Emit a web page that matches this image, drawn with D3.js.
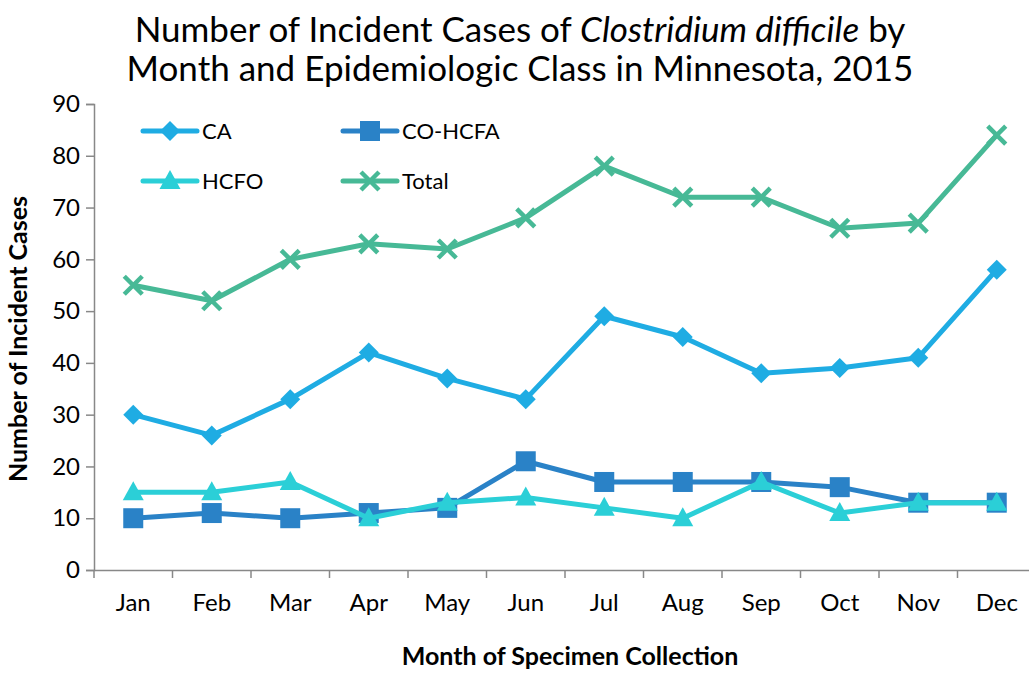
<!DOCTYPE html>
<html><head><meta charset="utf-8">
<script src="https://cdn.jsdelivr.net/npm/d3@7"></script>
<style>body{margin:0;background:#fff}svg{display:block}text{font-family:Lato,"Open Sans",sans-serif}</style>
</head><body><svg id="c" width="1029" height="673"></svg>
<script>
const months = ["Jan","Feb","Mar","Apr","May","Jun","Jul","Aug","Sep","Oct","Nov","Dec"];
const seriesNames = ["CA","CO-HCFA","HCFO","Total"];
const caValues = [30,26,33,42,37,33,49,45,38,39,41,58];
const coHcfaValues = [10,11,10,11,12,21,17,17,17,16,13,13];
const hcfoValues = [15,15,17,10,13,14,12,10,17,11,13,13];
const totalValues = [55,52,60,63,62,68,78,72,72,66,67,84];
const yTicks = [0,10,20,30,40,50,60,70,80,90];

const colors = {"CA":"#1FACE3","CO-HCFA":"#2A82C7","HCFO":"#2BCFD7","Total":"#47B996"};
const symbols = {"CA":"diamond","CO-HCFA":"square","HCFO":"triangle","Total":"x"};
const series = [
  {name:"CA", values:caValues},
  {name:"CO-HCFA", values:coHcfaValues},
  {name:"HCFO", values:hcfoValues},
  {name:"Total", values:totalValues}
];
const drawOrder = ["Total","CA","CO-HCFA","HCFO"];

const svg = d3.select("#c");
const mLeft = 94, mRight = 1036, mTop = 104, mBottom = 570;
const x = d3.scaleBand().domain(months).range([mLeft, mRight]);
const y = d3.scaleLinear().domain([0,90]).range([mBottom, mTop]);

const title = svg.append("text").attr("x", 520).attr("text-anchor","middle").attr("font-size", 35).attr("fill","#000");
const t1 = title.append("tspan").attr("x",520).attr("y",42);
t1.append("tspan").text("Number of Incident Cases of ");
t1.append("tspan").attr("font-style","italic").text("Clostridium difficile");
t1.append("tspan").text(" by");
title.append("tspan").attr("x",520).attr("y",81).text("Month and Epidemiologic Class in Minnesota, 2015");

const yAxis = d3.axisLeft(y).tickValues(yTicks).tickSize(8).tickPadding(6);
const gy = svg.append("g").attr("transform",`translate(${mLeft},0)`).call(yAxis);
gy.select(".domain").attr("stroke","#888").attr("stroke-width",1.5);
gy.selectAll(".tick line").attr("stroke","#888").attr("stroke-width",1.5);
gy.selectAll(".tick text").attr("font-size",24).attr("fill","#000").attr("font-family","Lato, sans-serif");

const xAxis = d3.axisBottom(x).tickSize(0).tickPadding(24);
const gx = svg.append("g").attr("transform",`translate(0,${mBottom})`).call(xAxis);
gx.select(".domain").attr("stroke","#888").attr("stroke-width",1.5);
gx.selectAll(".tick text").attr("font-size",24).attr("fill","#000").attr("font-family","Lato, sans-serif");
gx.selectAll(".bt").data(months).enter().append("line")
  .attr("x1", d=>x(d)).attr("x2", d=>x(d)).attr("y1",0).attr("y2",8)
  .attr("stroke","#888").attr("stroke-width",1.5);

svg.append("text").attr("transform",`translate(27,${(mTop+mBottom)/2 + 2}) rotate(-90)`)
  .attr("text-anchor","middle").attr("font-size",25).attr("font-weight","bold").text("Number of Incident Cases");
svg.append("text").attr("x",570).attr("y",665).attr("text-anchor","middle")
  .attr("font-size",25).attr("font-weight","bold").text("Month of Specimen Collection");

function marker(g, name, cx, cy){
  const c = colors[name];
  const s = symbols[name];
  if (s==="diamond") {
    g.append("path").attr("d",`M${cx},${cy-10}L${cx+10},${cy}L${cx},${cy+10}L${cx-10},${cy}Z`).attr("fill",c);
  } else if (s==="square") {
    g.append("rect").attr("x",cx-10).attr("y",cy-10).attr("width",20).attr("height",20).attr("fill",c);
  } else if (s==="triangle") {
    g.append("path").attr("d",`M${cx},${cy-11}L${cx+10.5},${cy+8}L${cx-10.5},${cy+8}Z`).attr("fill",c);
  } else {
    g.append("path").attr("d",`M${cx-9},${cy-9}L${cx+9},${cy+9}M${cx+9},${cy-9}L${cx-9},${cy+9}`)
      .attr("stroke",c).attr("stroke-width",4.5).attr("fill","none");
  }
}

const line = d3.line().x((d,i)=>x(months[i])+x.bandwidth()/2).y(d=>y(d));
drawOrder.forEach(n=>{
  const s = series.find(d=>d.name===n);
  const g = svg.append("g");
  g.append("path").datum(s.values).attr("d",line).attr("fill","none")
    .attr("stroke",colors[n]).attr("stroke-width",5).attr("stroke-linejoin","round");
  s.values.forEach((v,i)=>marker(g,n,x(months[i])+x.bandwidth()/2,y(v)));
});

const legendPos = {"CA":[143,131],"CO-HCFA":[343,131],"HCFO":[143,181],"Total":[343,181]};
seriesNames.forEach(n=>{
  const [lx,ly] = legendPos[n];
  const g = svg.append("g");
  g.append("line").attr("x1",lx).attr("x2",lx+54).attr("y1",ly).attr("y2",ly)
    .attr("stroke",colors[n]).attr("stroke-width",5).attr("stroke-linecap","round");
  marker(g,n,lx+27,ly);
  g.append("text").attr("x",lx+59).attr("y",ly+8).attr("font-size",22).text(n);
});
</script></body></html>
